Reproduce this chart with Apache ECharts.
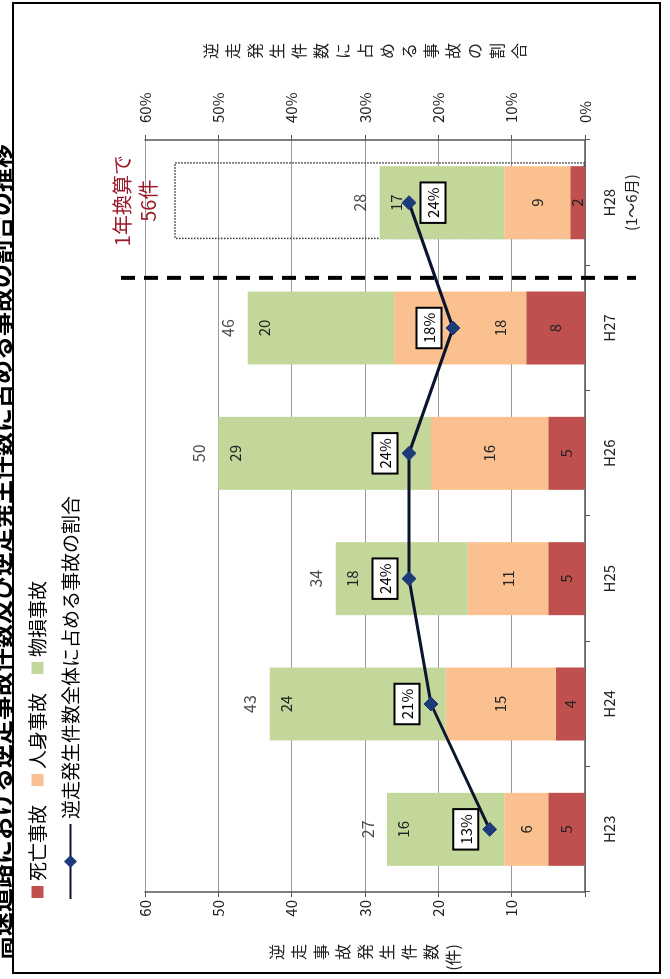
<!DOCTYPE html>
<html><head><meta charset="utf-8">
<script src="https://cdn.jsdelivr.net/npm/echarts@6/dist/echarts.min.js"></script>
<style>
html,body{margin:0;padding:0;width:670px;height:979px;overflow:hidden;background:#fff;}
#wrap{position:absolute;left:0;top:0;width:979px;height:670px;transform-origin:0 0;transform:translate(0,979px) rotate(-90deg);}
</style></head><body>
<div id="wrap"></div>
<script>
const titleText = '高速道路における逆走事故件数及び逆走発生件数に占める事故の割合の推移';
const categories = ['H23','H24','H25','H26','H27','H28\n(1〜6月)'];
const deaths = [5,4,5,5,8,2];
const injuries = [6,15,11,16,18,9];
const property = [16,24,18,29,20,17];
const totals = [27,43,34,50,46,28];
const ratio = [13,21,24,24,18,24];
const annualized = [null,null,null,null,null,56];
const annualLabel = '1年換算で\n56件';
const countTicks = [0,10,20,30,40,50,60];
const leftAxisName = '逆走事故発生件数(件)';
const rightAxisName = '逆走発生件数に占める事故の割合';

const FONT = '"Noto Sans CJK JP", "Noto Sans", sans-serif';
const vert = s => s.replace('(件)', '\u0000').split('').join('\n').replace('\u0000', '(件)');

const chart = echarts.init(document.getElementById('wrap'), null, {width:979, height:670});
const barW = 73;
const inLabel = {show:true, position:'inside', fontSize:15, color:'#222', fontFamily:FONT};
const topLabel = {show:true, position:'insideTop', distance:9, fontSize:15, color:'#222', fontFamily:FONT};

chart.setOption({
  animation:false,
  backgroundColor:'#fff',
  textStyle:{fontFamily:FONT},
  title:{text:titleText, left:19, top:-11, padding:0,
    textStyle:{fontSize:24, fontWeight:'bold', color:'#000', fontFamily:FONT}},
  legend:[
    {data:['死亡事故','人身事故','物損事故'], left:76, top:23, icon:'rect', itemWidth:12, itemHeight:12, itemGap:19,
      textStyle:{fontSize:19, color:'#000', fontFamily:FONT}, selectedMode:false},
    {data:['逆走発生件数全体に占める事故の割合'], left:74, top:56, itemWidth:75, itemHeight:16,
      textStyle:{fontSize:19, color:'#000', fontFamily:FONT}, selectedMode:false}
  ],
  grid:{left:87, right:140, top:145, bottom:85},
  xAxis:{type:'category', data:categories,
    axisLine:{lineStyle:{color:'#555', width:1.5}},
    axisTick:{show:true, length:5, lineStyle:{color:'#555'}},
    axisLabel:{fontSize:15, color:'#222', margin:13, lineHeight:22, fontFamily:FONT}},
  yAxis:[
    {type:'value', min:countTicks[0], max:countTicks[countTicks.length-1], interval:10, position:'left',
      name:vert(leftAxisName), nameLocation:'middle', nameGap:52, nameRotate:0,
      nameTextStyle:{fontSize:16, lineHeight:22, color:'#222', fontFamily:FONT},
      axisLine:{show:true, lineStyle:{color:'#555', width:1.5}},
      axisTick:{show:true, length:5, lineStyle:{color:'#555'}},
      splitLine:{show:true, lineStyle:{color:'#999', width:1}},
      axisLabel:{fontSize:15, color:'#222', margin:8, formatter:v => v === 0 ? '' : v}},
    {type:'value', min:0, max:60, interval:10, position:'right',
      name:vert(rightAxisName), nameLocation:'middle', nameGap:81, nameRotate:0,
      nameTextStyle:{fontSize:16, lineHeight:22, color:'#222', fontFamily:FONT},
      axisLine:{show:true, lineStyle:{color:'#555', width:1.5}},
      axisTick:{show:true, length:5, lineStyle:{color:'#555'}},
      splitLine:{show:false},
      axisLabel:{fontSize:15, color:'#222', margin:17, formatter:'{value}%'}}
  ],
  series:[
    {name:'年換算', type:'bar', data:annualized, barWidth:barW+4, barGap:'-100%', z:1,
      itemStyle:{color:'rgba(0,0,0,0)', borderColor:'#333', borderWidth:1.5, borderType:'dotted'},
      label:{show:true, position:'top', distance:13, formatter:annualLabel, fontSize:20, lineHeight:26,
        color:'#9b1b2b', fontFamily:FONT}},
    {name:'死亡事故', type:'bar', stack:'a', data:deaths, barWidth:barW, barGap:'-100%', z:2,
      itemStyle:{color:'#c0504d'}, label:inLabel},
    {name:'人身事故', type:'bar', stack:'a', barWidth:barW, barGap:'-100%', z:2,
      data:injuries.map((v,i) => i === 4 ? {value:v, label:{position:'insideBottom', distance:19}} : v),
      itemStyle:{color:'#fac08f'}, label:inLabel},
    {name:'物損事故', type:'bar', stack:'a', data:property, barWidth:barW, barGap:'-100%', z:2,
      itemStyle:{color:'#c4d79b'}, label:topLabel},
    {name:'合計', type:'scatter', data:totals, symbolSize:1, itemStyle:{color:'rgba(0,0,0,0)'}, z:3,
      label:{show:true, position:'top', distance:11, fontSize:16, color:'#222', formatter:'{c}', fontFamily:FONT}},
    {name:'逆走発生件数全体に占める事故の割合', type:'line', yAxisIndex:1, z:10,
      data:ratio.map((v,i) => i === ratio.length-1 ? {value:v, label:{position:'bottom'}} : v),
      lineStyle:{color:'#0b1530', width:3}, symbol:'diamond', symbolSize:14,
      itemStyle:{color:'#1f3a7a', borderColor:'#1f3a7a'},
      label:{show:true, position:'top', distance:5, formatter:'{c}%', fontSize:15, lineHeight:18, color:'#000',
        backgroundColor:'#fff', borderColor:'#000', borderWidth:2, padding:[3,4,2,4], fontFamily:FONT}}
  ]
});

// decorations positioned via the library's scales
const p27 = chart.convertToPixel({xAxisIndex:0}, 4);
const p28 = chart.convertToPixel({xAxisIndex:0}, 5);
const sepX = p27 + (p28 - p27) * 0.4;
chart.setOption({
  graphic:[
    {type:'line', shape:{x1:sepX, y1:121, x2:sepX, y2:636}, z:20,
      style:{stroke:'#000', lineWidth:4, lineDash:[14,9]}},
    {type:'rect', shape:{x:6, y:13, width:970, height:647}, z:20,
      style:{fill:'none', stroke:'#000', lineWidth:2}}
  ]
});
</script>
</body></html>
